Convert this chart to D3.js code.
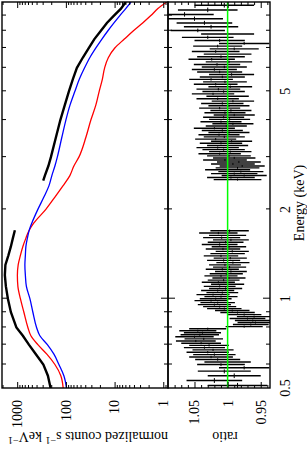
<!DOCTYPE html>
<html>
<head>
<meta charset="utf-8">
<script src="https://cdn.jsdelivr.net/npm/d3@7"></script>
<style>
  body { margin: 0; background: #fff; }
  text { font-family: "Liberation Serif", "Times New Roman", serif; fill: #000; }
</style>
</head>
<body>
<div id="chart"></div>
<script>
// ---- data ----
// black data, low energy part (keV, counts/s/keV)
var dataLoE = [0.5, 0.55, 0.6, 0.65, 0.7, 0.75, 0.8, 0.9, 1.0, 1.1, 1.2, 1.3, 1.4, 1.5, 1.6, 1.7];
var dataLoC = [206, 234, 290, 413, 575, 764, 1038, 1346, 1552, 1706, 1791, 1746, 1516, 1346, 1225, 1115];
// black data, high energy part
var dataHiE = [2.5, 2.6, 2.8, 3.0, 3.5, 4, 4.5, 5, 5.5, 6, 6.5, 7, 7.5, 8, 8.5, 9, 9.5, 10];
var dataHiC = [292, 270, 229, 203, 160, 130, 105, 86.7, 71.8, 59.4, 44.8, 33.7, 26, 19.1, 14.4, 10.3, 7.4, 5.9];

// model curves
var modelE = [0.5, 0.55, 0.6, 0.65, 0.7, 0.75, 0.8, 0.9, 1.0, 1.1, 1.2, 1.3, 1.4, 1.5, 1.6, 1.7, 1.8, 2.0, 2.2, 2.4,
              2.6, 2.8, 3.0, 3.5, 4, 4.5, 5, 5.5, 6, 6.5, 7, 7.5, 8, 8.5, 9, 9.5, 10];
var blueModel = [96.8, 110, 139, 176, 240, 342, 400, 476, 548, 647, 679, 695, 679, 662, 617, 567, 499, 376, 283, 223,
                 194, 168, 150, 121, 100, 82, 65.3, 52.8, 41.3, 32.1, 24.2, 18.2, 13.7, 10.3, 7.8, 5.9, 4.6];
var redModel = [113.6, 127, 168, 246, 376, 523, 603, 728, 859, 967, 991, 954, 859, 764, 662, 567, 454, 258, 168, 115,
                82.8, 68.5, 54.1, 38.8, 30.7, 24.2, 20.7, 17.8, 16, 13.4, 9.9, 6.3, 4.1, 2.65, 1.8, 1.29, 0.855];

// ratio residuals, low energy part
var resLoE = [0.51, 0.53, 0.55, 0.57, 0.585, 0.6, 0.612, 0.624, 0.636, 0.648,
              0.66, 0.672, 0.684, 0.696, 0.708, 0.72, 0.732, 0.744, 0.756, 0.768,
              0.78, 0.792, 0.805, 0.818, 0.831, 0.844, 0.857, 0.87, 0.884, 0.898,
              0.912, 0.926, 0.94, 0.955, 0.97, 0.985, 1.0, 1.016, 1.032, 1.048,
              1.065, 1.082, 1.1, 1.118, 1.136, 1.155, 1.174, 1.194, 1.214, 1.235,
              1.256, 1.278, 1.3, 1.323, 1.346, 1.37, 1.394, 1.419, 1.444, 1.47,
              1.496, 1.523, 1.55, 1.578, 1.606, 1.635, 1.664, 1.694];
var resLoR = [0.985, 1.02, 0.99, 1.005, 0.975, 1.01, 1.0, 1.015, 1.025, 1.02,
              1.03, 1.022, 1.035, 1.028, 1.04, 1.048, 1.036, 1.05, 1.042, 1.038,
              1.045, 1.03, 0.975, 0.965, 0.958, 0.962, 0.97, 0.96, 0.975, 0.985,
              0.993, 1.005, 1.012, 1.02, 1.015, 1.025, 1.018, 1.01, 1.022, 1.008,
              1.015, 1.003, 1.012, 1.0, 1.014, 1.006, 0.998, 1.01, 1.002, 0.995,
              1.008, 0.997, 1.004, 0.992, 1.006, 0.996, 1.01, 1.0, 0.993, 1.007,
              0.998, 1.012, 1.003, 0.995, 1.009, 1.0, 1.014, 0.997];
var resLoErr = [0.045, 0.042, 0.04, 0.04, 0.038, 0.036, 0.035, 0.034, 0.033, 0.032,
                0.032, 0.031, 0.031, 0.03, 0.03, 0.03, 0.029, 0.029, 0.029, 0.028,
                0.028, 0.028, 0.028, 0.027, 0.027, 0.027, 0.027, 0.026, 0.026, 0.026,
                0.026, 0.026, 0.025, 0.025, 0.026, 0.025, 0.024, 0.025, 0.025, 0.024,
                0.025, 0.025, 0.024, 0.025, 0.025, 0.024, 0.025, 0.025, 0.025, 0.024,
                0.025, 0.025, 0.024, 0.025, 0.025, 0.025, 0.026, 0.026, 0.025, 0.026,
                0.026, 0.027, 0.027, 0.027, 0.028, 0.028, 0.029, 0.029];

// ratio residuals, high energy part
var resHiE = [2.52, 2.56, 2.6, 2.64, 2.68, 2.72, 2.76, 2.8, 2.845, 2.89,
              2.935, 2.98, 3.03, 3.08, 3.13, 3.18, 3.23, 3.285, 3.34, 3.395,
              3.45, 3.51, 3.57, 3.63, 3.69, 3.755, 3.82, 3.885, 3.95, 4.02,
              4.09, 4.16, 4.235, 4.31, 4.39, 4.47, 4.55, 4.635, 4.72, 4.81,
              4.9, 4.99, 5.085, 5.18, 5.28, 5.38, 5.485, 5.59, 5.7, 5.81,
              5.925, 6.04, 6.16, 6.285, 6.41, 6.54, 6.675, 6.81, 6.95, 7.1,
              7.25, 7.42, 7.6, 7.8, 8.02, 8.25, 8.5, 8.78, 9.08, 9.4, 9.75];
var resHiR = [0.985, 0.995, 0.975, 0.99, 0.98, 1.0, 0.985, 0.978, 0.992, 0.983,
              1.004, 0.99, 0.998, 1.012, 0.996, 1.006, 1.015, 1.0, 1.01, 0.994,
              1.018, 1.005, 1.013, 0.998, 1.008, 1.02, 1.002, 0.992, 1.01, 0.997,
              1.006, 0.99, 1.004, 0.995, 1.012, 0.998, 1.008, 0.992, 1.015, 1.0,
              1.022, 1.006, 1.014, 0.996, 1.018, 1.004, 1.025, 1.008, 0.994, 1.012,
              1.02, 1.005, 1.016, 0.998, 1.024, 1.01, 1.0, 1.018, 0.99, 1.015,
              0.975, 1.012, 1.03, 1.0, 1.045, 1.025, 1.035, 1.05, 1.065, 1.03, 1.005];
var resHiErr = [0.036, 0.036, 0.034, 0.035, 0.034, 0.034, 0.033, 0.034, 0.033, 0.033,
                0.033, 0.032, 0.033, 0.032, 0.032, 0.032, 0.032, 0.031, 0.032, 0.031,
                0.031, 0.031, 0.031, 0.031, 0.031, 0.031, 0.031, 0.031, 0.031, 0.031,
                0.031, 0.031, 0.031, 0.031, 0.031, 0.031, 0.032, 0.032, 0.032, 0.032,
                0.032, 0.032, 0.033, 0.033, 0.033, 0.033, 0.033, 0.034, 0.034, 0.034,
                0.034, 0.034, 0.035, 0.035, 0.035, 0.036, 0.036, 0.036, 0.037, 0.037,
                0.038, 0.038, 0.039, 0.04, 0.041, 0.041, 0.042, 0.043, 0.044, 0.045, 0.045];

// tick values
var energyMinor = [0.6, 0.7, 0.8, 0.9, 2, 3, 4, 5, 6, 7, 8, 9];
var energyMajor = [1];
var energyLabels = [0.5, 1, 2, 5];
var countsMajor = [1, 10, 100, 1000];
var countsMinor = [0.9, 2, 3, 4, 5, 6, 7, 8, 9, 20, 30, 40, 50, 60, 70, 80, 90,
                   200, 300, 400, 500, 600, 700, 800, 900, 2000];
var ratioMajor = [0.95, 1, 1.05];
var ratioMinor = [0.94, 0.96, 0.97, 0.98, 0.99, 1.01, 1.02, 1.03, 1.04, 1.06, 1.07, 1.08];

// ---- layout ----
var svgWidth = 307;
var svgHeight = 449;

var svg = d3.select("#chart")
  .append("svg")
  .attr("width", svgWidth)
  .attr("height", svgHeight);

// plot is drawn landscape (449 wide, 307 high) then turned a quarter counter-clockwise
var plot = svg.append("g")
  .attr("transform", `translate(0, ${svgHeight}) rotate(-90)`);

var left = 61, right = 447;
var topY = 2, midY = 168, botY = 270;

var xScale = d3.scaleLog().domain([0.5, 10]).range([left, right]);
var yCounts = d3.scaleLog().domain([0.8, 2050]).range([midY, topY]);
var yRatio = d3.scaleLinear().domain([0.936, 1.09]).range([botY, midY]);

var defs = svg.append("defs");
defs.append("clipPath").attr("id", "clipTop")
  .append("rect").attr("x", left).attr("y", topY).attr("width", right - left).attr("height", midY - topY);
defs.append("clipPath").attr("id", "clipBot")
  .append("rect").attr("x", left).attr("y", midY).attr("width", right - left).attr("height", botY - midY);

// ---- top panel: counts ----
var topGroup = plot.append("g").attr("clip-path", "url(#clipTop)");

var line = d3.line()
  .x(d => xScale(d[0]))
  .y(d => yCounts(d[1]));

topGroup.append("path")
  .datum(dataLoE.map((e, i) => [e, dataLoC[i]]))
  .attr("d", line)
  .attr("fill", "none").attr("stroke", "#000").attr("stroke-width", 2.4);

topGroup.append("path")
  .datum(dataHiE.map((e, i) => [e, dataHiC[i]]))
  .attr("d", line)
  .attr("fill", "none").attr("stroke", "#000").attr("stroke-width", 2.4);

topGroup.append("path")
  .datum(modelE.map((e, i) => [e, redModel[i]]))
  .attr("d", line.curve(d3.curveMonotoneX))
  .attr("fill", "none").attr("stroke", "#ff0000").attr("stroke-width", 1.3);

topGroup.append("path")
  .datum(modelE.map((e, i) => [e, blueModel[i]]))
  .attr("d", line.curve(d3.curveMonotoneX))
  .attr("fill", "none").attr("stroke", "#0000ff").attr("stroke-width", 1.3);

// ---- bottom panel: ratio ----
var botGroup = plot.append("g").attr("clip-path", "url(#clipBot)");

function drawResiduals(es, rs, errs) {
  var bins = es.map(function(e, i) {
    var lo = i > 0 ? (e - es[i - 1]) / 2 : (es[1] - e) / 2;
    var hi = i < es.length - 1 ? (es[i + 1] - e) / 2 : (e - es[i - 1]) / 2;
    return { e: e, lo: e - lo, hi: e + hi, r: rs[i], err: errs[i] };
  });
  var g = botGroup.append("g").attr("stroke", "#000");
  g.selectAll("line.err").data(bins).enter().append("line")
    .attr("stroke-width", 1.4)
    .attr("x1", d => xScale(d.e)).attr("x2", d => xScale(d.e))
    .attr("y1", d => yRatio(d.r - d.err)).attr("y2", d => yRatio(d.r + d.err));
  g.selectAll("line.bin").data(bins).enter().append("line")
    .attr("stroke-width", 1)
    .attr("x1", d => xScale(d.lo)).attr("x2", d => xScale(d.hi))
    .attr("y1", d => yRatio(d.r)).attr("y2", d => yRatio(d.r));
}
drawResiduals(resLoE, resLoR, resLoErr);
drawResiduals(resHiE, resHiR, resHiErr);

botGroup.append("line")
  .attr("x1", left).attr("x2", right)
  .attr("y1", yRatio(1)).attr("y2", yRatio(1))
  .attr("stroke", "#00ff00").attr("stroke-width", 1.5);

// ---- frames and ticks ----
function drawTicks(axis, tx, ty) {
  var g = plot.append("g").attr("transform", `translate(${tx},${ty})`).call(axis);
  g.select(".domain").remove();
  g.selectAll("text").remove();
  g.selectAll("line").attr("stroke", "#000").attr("stroke-width", 1);
}

// energy ticks on every horizontal edge, pointing inward
[[topY, 1], [midY, -1], [midY, 1], [botY, -1]].forEach(function(p) {
  drawTicks(d3.axisBottom(xScale).tickValues(energyMinor).tickSize(4 * p[1]).tickFormat(""), 0, p[0]);
  drawTicks(d3.axisBottom(xScale).tickValues(energyMajor).tickSize(7 * p[1]).tickFormat(""), 0, p[0]);
});

// counts ticks
drawTicks(d3.axisRight(yCounts).tickValues(countsMinor).tickSize(3).tickFormat(""), left, 0);
drawTicks(d3.axisRight(yCounts).tickValues(countsMajor).tickSize(6).tickFormat(""), left, 0);
drawTicks(d3.axisLeft(yCounts).tickValues(countsMinor).tickSize(3).tickFormat(""), right, 0);
drawTicks(d3.axisLeft(yCounts).tickValues(countsMajor).tickSize(6).tickFormat(""), right, 0);

// ratio ticks
drawTicks(d3.axisRight(yRatio).tickValues(ratioMinor).tickSize(3).tickFormat(""), left, 0);
drawTicks(d3.axisRight(yRatio).tickValues(ratioMajor).tickSize(6).tickFormat(""), left, 0);
drawTicks(d3.axisLeft(yRatio).tickValues(ratioMinor).tickSize(3).tickFormat(""), right, 0);
drawTicks(d3.axisLeft(yRatio).tickValues(ratioMajor).tickSize(6).tickFormat(""), right, 0);

plot.append("rect")
  .attr("x", left).attr("y", topY).attr("width", right - left).attr("height", midY - topY)
  .attr("fill", "none").attr("stroke", "#000").attr("stroke-width", 1.4);
plot.append("rect")
  .attr("x", left).attr("y", midY).attr("width", right - left).attr("height", botY - midY)
  .attr("fill", "none").attr("stroke", "#000").attr("stroke-width", 1.4);

// ---- tick labels ----
var fontSize = 14;

plot.selectAll("text.elab").data(energyLabels).enter().append("text")
  .attr("x", d => xScale(d)).attr("y", botY + 20)
  .attr("text-anchor", "middle").attr("font-size", fontSize)
  .text(d => d);

plot.selectAll("text.clab").data(countsMajor).enter().append("text")
  .attr("x", left - 12).attr("y", d => yCounts(d))
  .attr("dy", "0.35em").attr("text-anchor", "end").attr("font-size", fontSize)
  .text(d => d);

plot.selectAll("text.rlab").data(ratioMajor).enter().append("text")
  .attr("x", left - 12).attr("y", d => yRatio(d))
  .attr("dy", "0.35em").attr("text-anchor", "end").attr("font-size", fontSize)
  .text(d => d);

// ---- axis titles ----
plot.append("text")
  .attr("x", (left + right) / 2 - 8).attr("y", botY + 34)
  .attr("text-anchor", "middle").attr("font-size", fontSize)
  .text("Energy (keV)");

var yTitle = plot.append("text")
  .attr("transform", `translate(17, ${(topY + midY) / 2 + 3}) rotate(-90)`)
  .attr("text-anchor", "middle").attr("font-size", fontSize);
yTitle.append("tspan").text("normalized counts s");
yTitle.append("tspan").attr("dy", -5).attr("font-size", 10).text("−1");
yTitle.append("tspan").attr("dy", 5).text(" keV");
yTitle.append("tspan").attr("dy", -5).attr("font-size", 10).text("−1");

plot.append("text")
  .attr("transform", `translate(17, ${(midY + botY) / 2 + 6}) rotate(-90)`)
  .attr("text-anchor", "middle").attr("font-size", fontSize)
  .text("ratio");
</script>
</body>
</html>
